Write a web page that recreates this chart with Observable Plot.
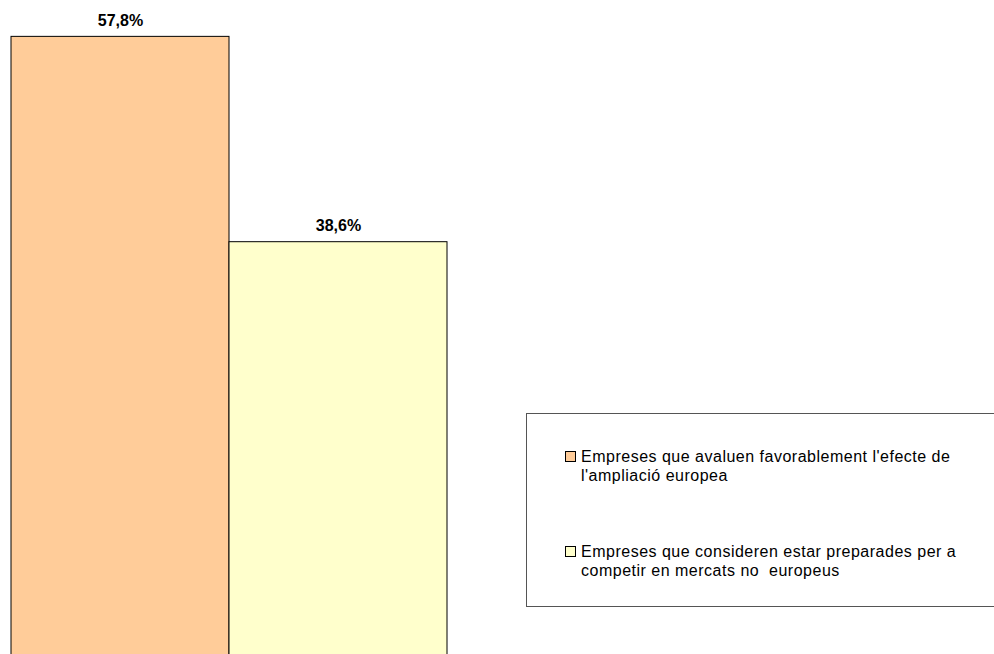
<!DOCTYPE html>
<html>
<head>
<meta charset="utf-8">
<script src="https://cdn.jsdelivr.net/npm/d3@7"></script>
<script src="https://cdn.jsdelivr.net/npm/@observablehq/plot@0.6"></script>
<style>
  html, body { margin: 0; padding: 0; background: #fff; overflow: hidden; }
  #wrap { position: relative; width: 994px; height: 654px; }
  #legend {
    position: absolute; left: 526px; top: 413px; width: 520px; height: 194px;
    border: 1px solid #555; background: #fff; box-sizing: border-box;
    font-family: "Liberation Sans", Arial, sans-serif; font-size: 16px; color: #000;
    letter-spacing: 0.5px;
  }
  .item { position: absolute; left: 38px; width: 420px; line-height: 19px; padding-left: 16px; white-space: pre; }
  .sw { position: absolute; left: 0; top: 4px; width: 9px; height: 9px; border: 1px solid #000; }
</style>
</head>
<body>
<div id="wrap"></div>
<script>
const categories = [
  "Empreses que avaluen favorablement l'efecte de l'ampliació europea",
  "Empreses que consideren estar preparades per a competir en mercats no  europeus"
];
const legendLines = [
  ["Empreses que avaluen favorablement l'efecte de", "l'ampliació europea"],
  ["Empreses que consideren estar preparades per a", "competir en mercats no  europeus"]
];
const values = [57.8, 38.6];
const labels = ["57,8%", "38,6%"];
const colors = ["#FFCC99", "#FFFFCC"];

const data = categories.map((c, i) => ({cat: c, value: values[i], label: labels[i], color: colors[i]}));

const chart = Plot.plot({
  width: 994,
  height: 654,
  marginTop: 0, marginBottom: 0, marginLeft: 0, marginRight: 0,
  x: {domain: categories, range: [10.5, 447.5], padding: 0, axis: null},
  y: {domain: [0, 61.2], range: [654.5, 0], axis: null},
  marks: [
    Plot.barY(data, {x: "cat", y: "value", fill: "color", stroke: "#000", strokeWidth: 1, inset: 0}),
    Plot.text(data, {x: "cat", y: "value", text: "label", lineAnchor: "bottom", dy: -11,
      fontWeight: "bold", fontSize: 16, fill: "#000", fontFamily: "Liberation Sans, Arial, sans-serif"})
  ]
});
chart.style.display = "block";
document.getElementById("wrap").appendChild(chart);

const legend = document.createElement("div");
legend.id = "legend";
const tops = [33, 128];
legendLines.forEach((lines, i) => {
  const it = document.createElement("div");
  it.className = "item";
  it.style.top = tops[i] + "px";
  const sw = document.createElement("span");
  sw.className = "sw";
  sw.style.background = colors[i];
  it.appendChild(sw);
  it.appendChild(document.createTextNode(lines.join("\n")));
  legend.appendChild(it);
});
document.getElementById("wrap").appendChild(legend);
</script>
</body>
</html>
